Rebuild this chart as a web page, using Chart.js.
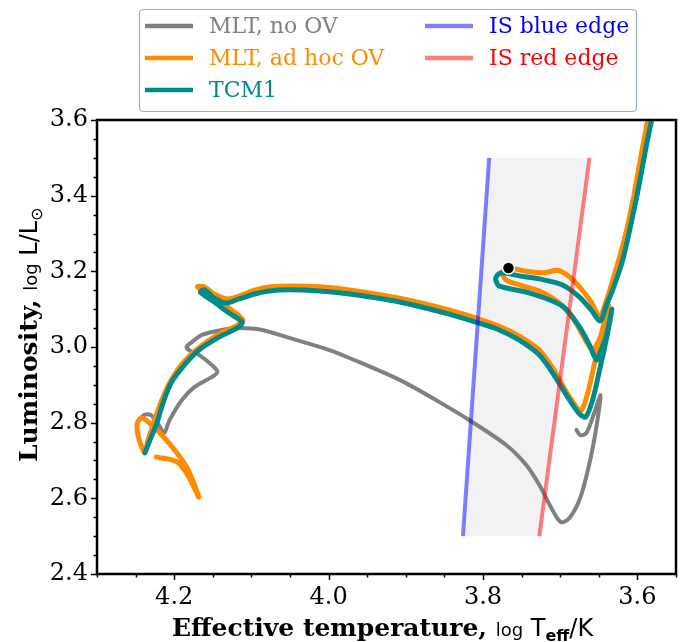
<!DOCTYPE html>
<html>
<head>
<meta charset="utf-8">
<script src="https://cdn.jsdelivr.net/npm/chart.js@4.4.1/dist/chart.umd.min.js"></script>
<style>
  html, body { margin: 0; padding: 0; background: #fff; }
  canvas { display: block; }
</style>
</head>
<body>
<canvas id="hrChart" width="686" height="642"></canvas>
<script>
// evolutionary tracks, log Teff and log L
const noOvTemp = [4.247, 4.239, 4.230, 4.219, 4.213, 4.206, 4.190, 4.174, 4.151, 4.144, 4.151, 4.168, 4.181, 4.184, 4.177, 4.164, 4.138, 4.116, 4.086, 4.051, 3.999, 3.973, 3.908, 3.857, 3.818, 3.770, 3.744, 3.727, 3.710, 3.699, 3.688, 3.675, 3.665, 3.656, 3.650, 3.648, 3.656, 3.666, 3.674, 3.679];
const noOvLum = [2.802, 2.820, 2.820, 2.791, 2.773, 2.807, 2.860, 2.894, 2.921, 2.934, 2.952, 2.979, 2.992, 3.000, 3.013, 3.032, 3.045, 3.050, 3.045, 3.024, 2.992, 2.971, 2.913, 2.855, 2.807, 2.741, 2.688, 2.635, 2.569, 2.537, 2.548, 2.596, 2.667, 2.754, 2.830, 2.873, 2.825, 2.773, 2.767, 2.781];

const adHocTemp = [4.223, 4.196, 4.181, 4.168, 4.184, 4.210, 4.232, 4.243, 4.248, 4.247, 4.243, 4.238, 4.234, 4.226, 4.217, 4.206, 4.190, 4.170, 4.144, 4.118, 4.111, 4.126, 4.148, 4.170, 4.161, 4.148, 4.131, 4.113, 4.095, 4.074, 4.051, 4.012, 3.973, 3.908, 3.844, 3.805, 3.779, 3.753, 3.727, 3.708, 3.691, 3.679, 3.673, 3.665, 3.656, 3.647, 3.637, 3.644, 3.653, 3.658, 3.669, 3.682, 3.701, 3.727, 3.753, 3.770, 3.775, 3.767, 3.746, 3.721, 3.704, 3.691, 3.675, 3.660, 3.649, 3.640, 3.630, 3.617, 3.605, 3.594, 3.586];
const adHocLum = [2.709, 2.696, 2.656, 2.603, 2.683, 2.754, 2.799, 2.812, 2.796, 2.767, 2.741, 2.722, 2.754, 2.802, 2.855, 2.905, 2.955, 2.995, 3.032, 3.058, 3.071, 3.098, 3.132, 3.159, 3.159, 3.140, 3.127, 3.137, 3.151, 3.159, 3.161, 3.159, 3.151, 3.129, 3.098, 3.074, 3.055, 3.029, 2.992, 2.939, 2.878, 2.841, 2.831, 2.873, 2.952, 3.032, 3.110, 3.045, 3.005, 2.992, 3.024, 3.071, 3.116, 3.148, 3.164, 3.177, 3.196, 3.209, 3.201, 3.196, 3.203, 3.190, 3.159, 3.119, 3.082, 3.124, 3.190, 3.283, 3.396, 3.521, 3.605];

const tcmTemp = [4.238, 4.232, 4.223, 4.214, 4.204, 4.187, 4.168, 4.142, 4.116, 4.112, 4.129, 4.148, 4.166, 4.161, 4.148, 4.133, 4.116, 4.096, 4.077, 4.051, 4.012, 3.973, 3.908, 3.844, 3.805, 3.779, 3.753, 3.727, 3.708, 3.688, 3.675, 3.667, 3.658, 3.649, 3.641, 3.633, 3.640, 3.648, 3.653, 3.662, 3.675, 3.697, 3.740, 3.779, 3.783, 3.783, 3.776, 3.753, 3.727, 3.697, 3.675, 3.660, 3.648, 3.640, 3.632, 3.619, 3.601, 3.587, 3.581];
const tcmLum = [2.720, 2.751, 2.796, 2.855, 2.905, 2.952, 2.992, 3.026, 3.053, 3.066, 3.090, 3.119, 3.145, 3.151, 3.129, 3.116, 3.127, 3.140, 3.148, 3.151, 3.148, 3.140, 3.119, 3.087, 3.063, 3.045, 3.018, 2.979, 2.926, 2.860, 2.823, 2.815, 2.860, 2.939, 3.013, 3.100, 3.032, 2.987, 2.966, 3.005, 3.053, 3.108, 3.143, 3.161, 3.174, 3.185, 3.196, 3.188, 3.180, 3.164, 3.132, 3.098, 3.069, 3.111, 3.151, 3.230, 3.396, 3.547, 3.605];

// instability strip edges
const blueEdgeTemp = [3.826, 3.792];
const blueEdgeLum = [2.5, 3.5];
const redEdgeTemp = [3.727, 3.662];
const redEdgeLum = [2.5, 3.5];

// marked model
const markerTemp = [3.767];
const markerLum = [3.209];

const xTickValues = [4.2, 4.0, 3.8, 3.6];
const yTickValues = [2.4, 2.6, 2.8, 3.0, 3.2, 3.4, 3.6];

const legendLabels = ["MLT, no OV", "MLT, ad hoc OV", "TCM1", "IS blue edge", "IS red edge"];

const GRAY = "#808080";
const ORANGE = "#ff8c00";
const TEAL = "#008b8b";

function toPoints(xs, ys) {
    return xs.map((x, i) => ({ x: x, y: ys[i] }));
}

function trackDataset(label, xs, ys, color, width, order) {
    return {
        label: label,
        data: toPoints(xs, ys),
        showLine: true,
        borderColor: color,
        borderWidth: width,
        pointRadius: 0,
        tension: 0.3,
        borderJoinStyle: "round",
        borderCapStyle: "round",
        order: order,
    };
}

// light grey band between the two edges, under the tracks
const stripFill = {
    id: "stripFill",
    beforeDatasetsDraw(chart) {
        const { ctx, chartArea: a, scales: { x, y } } = chart;
        ctx.save();
        ctx.beginPath();
        ctx.rect(a.left, a.top, a.right - a.left, a.bottom - a.top);
        ctx.clip();
        ctx.beginPath();
        ctx.moveTo(x.getPixelForValue(blueEdgeTemp[0]), y.getPixelForValue(blueEdgeLum[0]));
        ctx.lineTo(x.getPixelForValue(blueEdgeTemp[1]), y.getPixelForValue(blueEdgeLum[1]));
        ctx.lineTo(x.getPixelForValue(redEdgeTemp[1]), y.getPixelForValue(redEdgeLum[1]));
        ctx.lineTo(x.getPixelForValue(redEdgeTemp[0]), y.getPixelForValue(redEdgeLum[0]));
        ctx.closePath();
        ctx.fillStyle = "rgba(128,128,128,0.1)";
        ctx.fill();
        ctx.restore();
    },
};

// axes frame plus major / minor ticks
const frameAndTicks = {
    id: "frameAndTicks",
    afterDatasetsDraw(chart) {
        const { ctx, chartArea: a, scales: { x, y } } = chart;
        ctx.save();
        ctx.strokeStyle = "#000";
        ctx.lineWidth = 1.5;
        ctx.beginPath();
        for (let i = 0; i <= 15; i++) {
            const v = Math.round((3.55 + i * 0.05) * 100) / 100;
            const px = Math.round(x.getPixelForValue(v)) + 0.5;
            const major = Math.abs(v * 5 - Math.round(v * 5)) < 1e-6;
            ctx.moveTo(px, a.bottom);
            ctx.lineTo(px, a.bottom + (major ? 6 : 3.5));
        }
        for (let i = 0; i <= 24; i++) {
            const v = Math.round((2.4 + i * 0.05) * 100) / 100;
            const py = Math.round(y.getPixelForValue(v)) + 0.5;
            const major = Math.abs(v * 5 - Math.round(v * 5)) < 1e-6;
            ctx.moveTo(a.left, py);
            ctx.lineTo(a.left - (major ? 6 : 3.5), py);
        }
        ctx.stroke();
        ctx.lineWidth = 2.5;
        ctx.strokeRect(a.left, a.top, a.right - a.left, a.bottom - a.top);
        ctx.restore();
    },
};

// axis titles with mixed fonts, and the boxed legend
const labelsAndLegend = {
    id: "labelsAndLegend",
    afterDraw(chart) {
        const { ctx } = chart;
        ctx.save();
        ctx.fillStyle = "#000";
        ctx.textBaseline = "alphabetic";
        ctx.textAlign = "left";

        const drawRuns = (runs, start, base) => {
            let cur = start;
            runs.forEach((r) => {
                ctx.font = r.font;
                ctx.fillText(r.text, cur, base + (r.dy || 0));
                cur += ctx.measureText(r.text).width;
            });
        };

        drawRuns([
            { text: "Effective temperature, ", font: "bold 25px 'DejaVu Serif'" },
            { text: "log", font: "18px 'DejaVu Sans'" },
            { text: " T", font: "24px 'DejaVu Sans'" },
            { text: "eff", font: "bold 16px 'DejaVu Sans'", dy: 5 },
            { text: "/K", font: "24px 'DejaVu Sans'" },
        ], 172, 636);

        ctx.save();
        ctx.translate(37, 0);
        ctx.rotate(-Math.PI / 2);
        drawRuns([
            { text: "Luminosity, ", font: "bold 25px 'DejaVu Serif'" },
            { text: "log", font: "18px 'DejaVu Sans'" },
            { text: " L/L", font: "24px 'DejaVu Sans'" },
            { text: "\u2299", font: "16px 'DejaVu Sans'", dy: 5 },
        ], -462, 0);
        ctx.restore();

        // legend box
        ctx.beginPath();
        ctx.roundRect(139.5, 9.5, 497, 102, 4);
        ctx.fillStyle = "rgba(255,255,255,0.9)";
        ctx.fill();
        ctx.strokeStyle = "#8fb0cf";
        ctx.lineWidth = 1.2;
        ctx.stroke();

        const entries = [
            { text: legendLabels[0], line: GRAY, color: GRAY, x: 145, y: 26 },
            { text: legendLabels[1], line: ORANGE, color: ORANGE, x: 145, y: 58 },
            { text: legendLabels[2], line: TEAL, color: TEAL, x: 145, y: 90 },
            { text: legendLabels[3], line: "rgba(0,0,255,0.5)", color: "#0000ff", x: 425, y: 26 },
            { text: legendLabels[4], line: "rgba(255,0,0,0.5)", color: "#ff0000", x: 425, y: 58 },
        ];
        ctx.font = "22px 'DejaVu Serif'";
        ctx.textBaseline = "middle";
        entries.forEach((e) => {
            ctx.beginPath();
            ctx.moveTo(e.x, e.y);
            ctx.lineTo(e.x + 48, e.y);
            ctx.strokeStyle = e.line;
            ctx.lineWidth = 4.5;
            ctx.stroke();
            ctx.fillStyle = e.color;
            ctx.fillText(e.text, e.x + 64, e.y + 1);
        });
        ctx.restore();
    },
};

const ctx = document.getElementById("hrChart").getContext("2d");

new Chart(ctx, {
    type: "scatter",
    data: {
        datasets: [
            trackDataset(legendLabels[0], noOvTemp, noOvLum, GRAY, 4, 5),
            trackDataset(legendLabels[1], adHocTemp, adHocLum, ORANGE, 5, 4),
            trackDataset(legendLabels[2], tcmTemp, tcmLum, TEAL, 5, 3),
            {
                label: legendLabels[3],
                data: toPoints(blueEdgeTemp, blueEdgeLum),
                showLine: true,
                borderColor: "rgba(0,0,255,0.5)",
                borderWidth: 4,
                pointRadius: 0,
                order: 2,
            },
            {
                label: legendLabels[4],
                data: toPoints(redEdgeTemp, redEdgeLum),
                showLine: true,
                borderColor: "rgba(255,0,0,0.5)",
                borderWidth: 4,
                pointRadius: 0,
                order: 1,
            },
            {
                label: "model",
                data: toPoints(markerTemp, markerLum),
                pointRadius: 6,
                pointBackgroundColor: "#000",
                pointBorderColor: "#fff",
                pointBorderWidth: 1.5,
                order: 0,
            },
        ],
    },
    options: {
        responsive: false,
        animation: false,
        layout: { padding: { top: 120, right: 10, left: 0, bottom: 0 } },
        plugins: {
            legend: { display: false },
            tooltip: { enabled: false },
        },
        scales: {
            x: {
                type: "linear",
                reverse: true,
                min: 3.55,
                max: 4.30,
                afterBuildTicks: (s) => { s.ticks = xTickValues.map((v) => ({ value: v })); },
                afterFit: (s) => { s.height = 68; },
                grid: { display: false, drawTicks: true, tickLength: 6 },
                border: { display: false },
                ticks: {
                    color: "#000",
                    font: { family: "'DejaVu Serif'", size: 24 },
                    padding: 3,
                    maxRotation: 0,
                    autoSkip: false,
                    callback: (v) => v.toFixed(1),
                },
            },
            y: {
                type: "linear",
                min: 2.4,
                max: 3.6,
                afterBuildTicks: (s) => { s.ticks = yTickValues.map((v) => ({ value: v })); },
                afterFit: (s) => { s.width = 97; },
                grid: { display: false, drawTicks: true, tickLength: 6 },
                border: { display: false },
                ticks: {
                    color: "#000",
                    font: { family: "'DejaVu Serif'", size: 24 },
                    padding: 3,
                    autoSkip: false,
                    callback: (v) => v.toFixed(1),
                },
            },
        },
    },
    plugins: [stripFill, frameAndTicks, labelsAndLegend],
});
</script>
</body>
</html>
